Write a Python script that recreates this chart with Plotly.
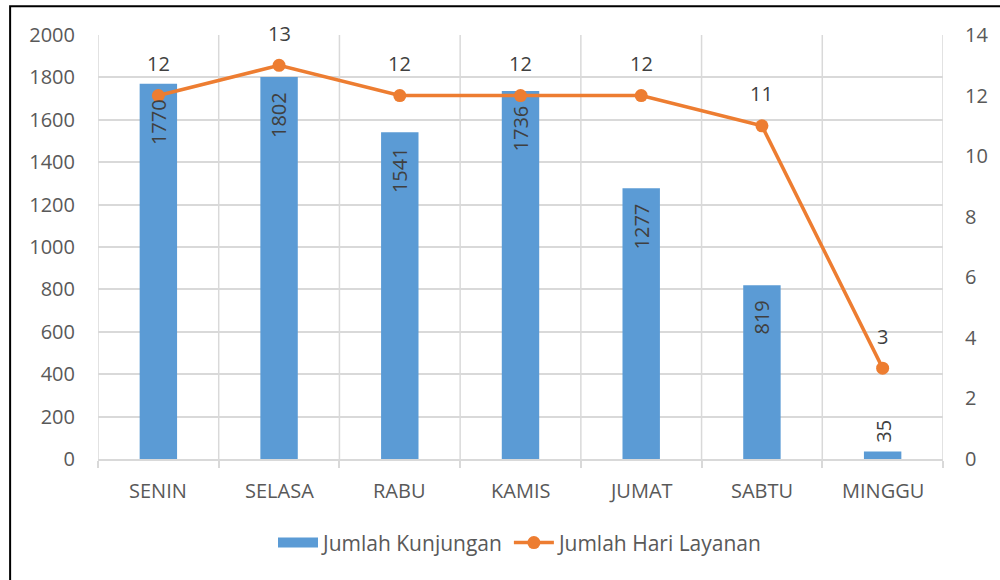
import plotly.graph_objects as go

days = ["SENIN", "SELASA", "RABU", "KAMIS", "JUMAT", "SABTU", "MINGGU"]
kunjungan = [1770, 1802, 1541, 1736, 1277, 819, 35]
hari_layanan = [12, 13, 12, 12, 12, 11, 3]
left_ticks = list(range(0, 2001, 200))
right_ticks = list(range(0, 15, 2))

FONT = "Open Sans"
TXT = "#595959"
LBL = "#404040"
GRID = "#D9D9D9"
BLUE = "#5B9BD5"
ORANGE = "#ED7D31"

fig = go.Figure()
fig.add_trace(go.Bar(
    x=days, y=kunjungan, name="Jumlah Kunjungan", showlegend=False,
    marker=dict(color=BLUE, line=dict(width=0)),
    width=0.31, legendgroup="a",
))
# legend entry for bars (wide block like the reference)
fig.add_trace(go.Scatter(
    x=[None], y=[None], name="Jumlah Kunjungan", mode="lines",
    line=dict(color=BLUE, width=14), legendgroup="a",
))
fig.add_trace(go.Scatter(
    x=days, y=hari_layanan, name="Jumlah Hari Layanan", yaxis="y2",
    mode="lines+markers",
    line=dict(color=ORANGE, width=3.5),
    marker=dict(color=ORANGE, size=13),
    cliponaxis=False, legendgroup="b",
))

# bar value labels (rotated, inside end; small bars outside)
for d, v in zip(days, kunjungan):
    s = str(v)
    half = len(s) * 11.5 / 2
    inside = v > 300
    fig.add_annotation(x=d, y=v, xref="x", yref="y", text=s, showarrow=False, textangle=-90,
                       xanchor="center", yanchor="middle",
                       yshift=-(15 + half) if inside else (9 + half),
                       font=dict(family=FONT, size=20, color=LBL))
# line value labels
for d, v in zip(days, hari_layanan):
    fig.add_annotation(x=d, y=v, xref="x", yref="y2", text=str(v), showarrow=False,
                       yshift=32, font=dict(family=FONT, size=20, color=LBL))

fig.add_shape(type="rect", xref="paper", yref="paper", x0=-0.104, x1=1.2, y0=-0.5, y1=1.068,
              line=dict(color="black", width=2), layer="below")

fig.update_layout(
    width=1000, height=580,
    margin=dict(l=98, r=54, t=35, b=121),
    paper_bgcolor="white", plot_bgcolor="white",
    font=dict(family=FONT, size=20, color=TXT),
    showlegend=True,
    legend=dict(orientation="h", x=0.5, xanchor="center", y=-0.198, yanchor="middle",
                font=dict(family=FONT, size=21, color=TXT), itemwidth=40, tracegroupgap=25),
    xaxis=dict(showgrid=False, ticks="outside", ticklen=7, tickcolor=GRID, tickwidth=1.5,
               showline=True, linecolor=GRID, linewidth=2,
               tickfont=dict(family=FONT, size=20, color=TXT), ticklabelstandoff=8,
               tickvals=[i - 0.5 for i in range(len(days) + 1)], ticktext=[""] * (len(days) + 1),
               range=[-0.5, len(days) - 0.5]),
    yaxis=dict(range=[0, 2000], tickvals=left_ticks, showgrid=True, gridcolor=GRID, gridwidth=1.5,
               zeroline=False, tickfont=dict(family=FONT, size=20, color=TXT), ticklabelstandoff=22),
    yaxis2=dict(range=[0, 14], tickvals=right_ticks, overlaying="y", side="right", showgrid=False,
                zeroline=False, tickfont=dict(family=FONT, size=20, color=TXT), ticklabelstandoff=21),
)
# category labels via annotations under each category
for i, d in enumerate(days):
    fig.add_annotation(x=i, y=0, xref="x", yref="paper", text=d, showarrow=False,
                       yanchor="middle", yshift=-31, font=dict(family=FONT, size=20, color=TXT))
# vertical category gridlines at category boundaries
for i in range(len(days) + 1):
    fig.add_shape(type="line", xref="x", yref="paper", x0=i - 0.5, x1=i - 0.5, y0=0, y1=1,
                  line=dict(color=GRID, width=1.5), layer="below")

fig.write_html("out.html", config={"displayModeBar": False},
               post_script="document.body.style.margin='0';")
